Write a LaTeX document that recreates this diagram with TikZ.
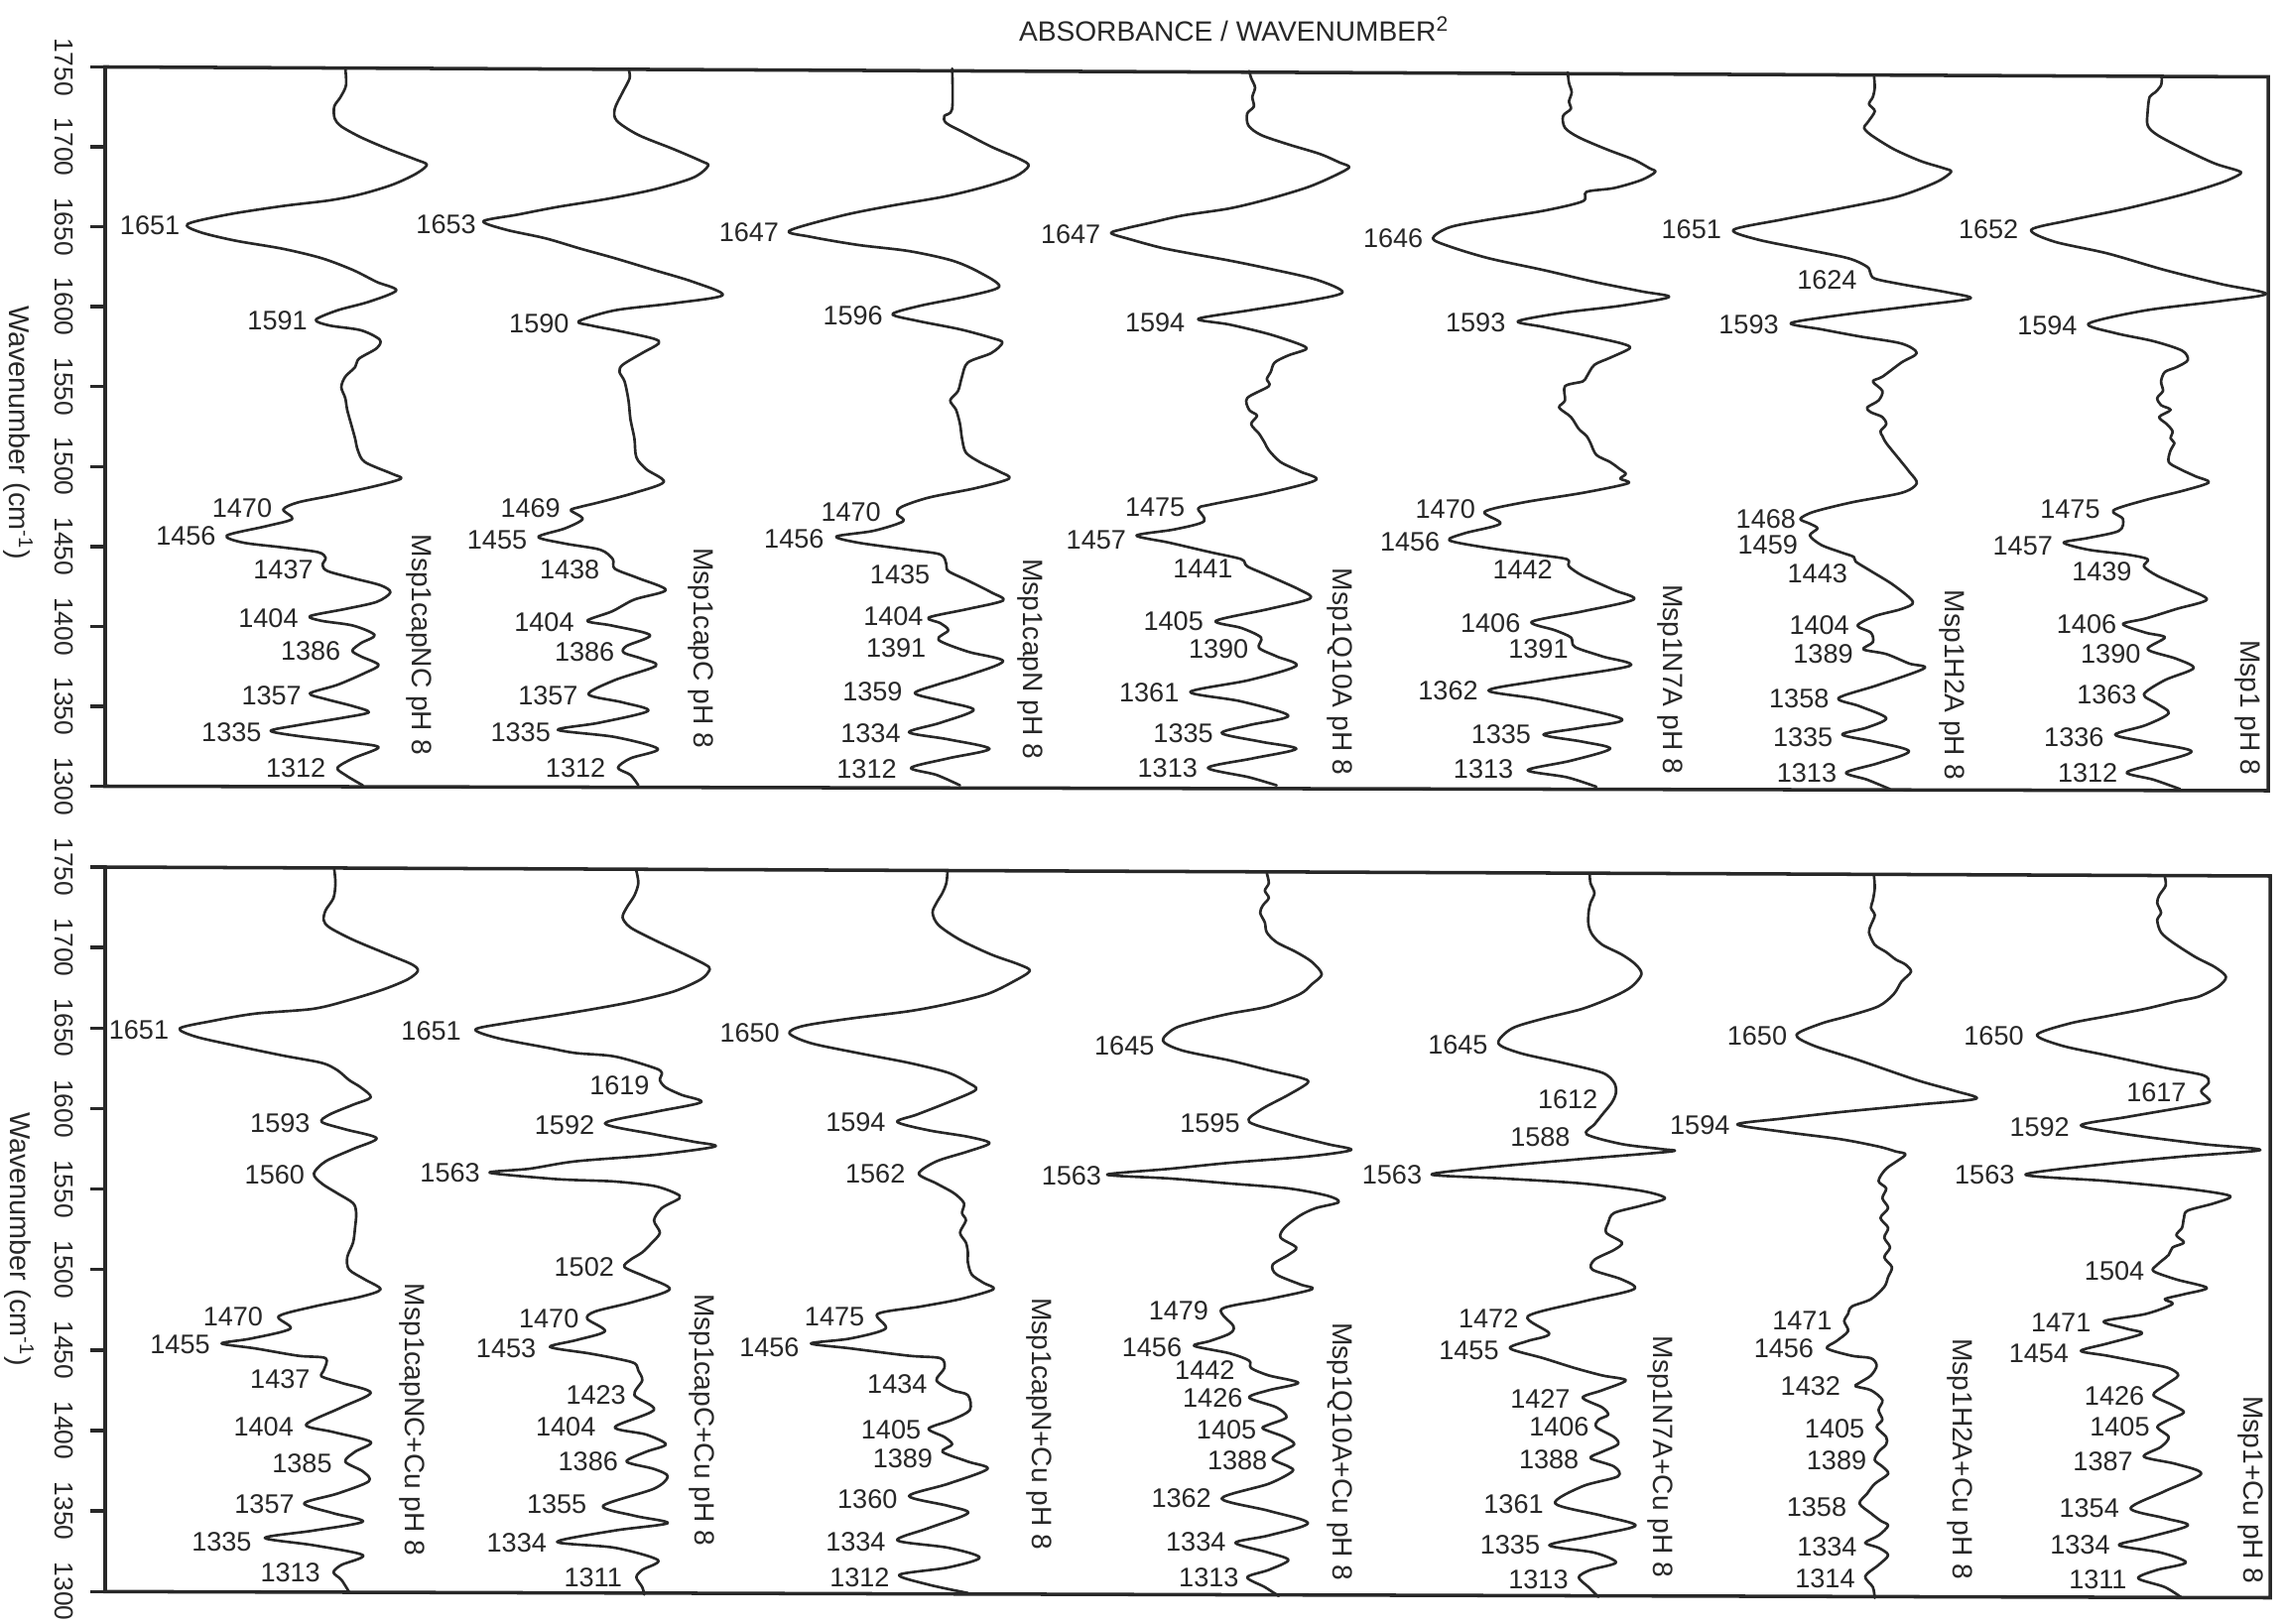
\documentclass[tikz,border=0pt]{standalone}
\usepackage{fontspec}
\setmainfont{Liberation Sans}
\definecolor{ink}{RGB}{40,40,40}
\newcommand\lab[4]{\node[lbl] (#1-#4) at (#2,#3) {#4};}
\begin{document}
\begin{tikzpicture}[x=0.01cm,y=-0.01cm,
  curve/.style={line width=0.75pt, draw=ink, line join=round, line cap=round},
  panelframe/.style={line width=1pt, draw=ink},
  lbl/.style={font=\fontsize{7.7}{8}\selectfont, text=ink, anchor=east, inner sep=0pt},
  sname/.style={font=\fontsize{8}{9}\selectfont, text=ink, rotate=-90, inner sep=0pt},
  ticklbl/.style={font=\fontsize{7.5}{8}\selectfont, text=ink, rotate=-90, inner sep=0pt},
  axlbl/.style={font=\fontsize{8.2}{9}\selectfont, text=ink, rotate=-90, inner sep=0pt}]
\useasboundingbox[fill=white] (0,0) rectangle (2303,1637);

% title
\node[font=\fontsize{8}{9}\selectfont, text=ink, anchor=base, inner sep=0pt] (title) at (1244,41.7) {ABSORBANCE / WAVENUMBER\textsuperscript{2}};

% frames
\draw[panelframe] (106,67.5) -- (2286,77.5) -- (2286,797) -- (106,792.5) -- cycle;
\draw[panelframe] (106,874) -- (2288,883) -- (2288,1610.5) -- (106,1604.3) -- cycle;

% ticks and tick labels
\foreach \k/\v in {0/1750,1/1700,2/1650,3/1600,4/1550,5/1500,6/1450,7/1400,8/1350,9/1300}{
  \draw[panelframe] (91,{67.5+80.56*\k}) -- (106,{67.5+80.56*\k});
  \node[ticklbl] (ta\v) at (65,{67.5+80.56*\k}) {\v};
  \draw[panelframe] (91,{874+81.14*\k}) -- (106,{874+81.14*\k});
  \node[ticklbl] (tb\v) at (65,{874+81.14*\k}) {\v};
}
\node[axlbl] (axa) at (18,436) {Wavenumber (cm\textsuperscript{-1})};
\node[axlbl] (axb) at (19,1249) {Wavenumber (cm\textsuperscript{-1})};

% ================= TOP PANEL, left part =================
\begin{scope}[yshift=-0.5cm, x=0.0039541cm, y=-0.0047831cm]
% curve 1
\draw[curve] plot[smooth,tension=0.5] coordinates {(880,38) (882,75) (868,100) (852,120) (853,145) (870,162) (920,185) (990,210) (1060,232) (1088,243) (1060,262) (1000,285) (920,305) (840,318) (720,330) (580,348) (478,368) (510,385) (600,403) (720,420) (820,440) (900,465) (960,490) (1010,508) (940,532) (860,550) (805,570) (840,582) (920,592) (968,612) (960,630) (915,652) (905,670) (880,690) (870,712) (880,735) (885,760) (895,790) (905,820) (912,845) (930,870) (1000,895) (1022,905) (960,920) (850,940) (760,955) (722,970) (745,990) (680,1005) (578,1025) (620,1040) (720,1050) (810,1060) (830,1072) (822,1087) (835,1100) (900,1115) (970,1130) (995,1145) (960,1165) (880,1180) (790,1195) (820,1205) (900,1215) (955,1235) (920,1252) (898,1268) (920,1280) (965,1298) (930,1315) (860,1340) (790,1358) (830,1370) (900,1385) (940,1398) (870,1410) (760,1425) (690,1437) (760,1448) (900,1462) (965,1472) (900,1495) (860,1515) (880,1530) (910,1545) (925,1552)};
\lab{T1}{460}{370}{1651}\lab{T1}{785}{572}{1591}\lab{T1}{695}{968}{1470}\lab{T1}{552}{1025}{1456}\lab{T1}{800}{1097}{1437}
\lab{T1}{762}{1200}{1404}\lab{T1}{870}{1268}{1386}\lab{T1}{770}{1362}{1357}\lab{T1}{668}{1440}{1335}\lab{T1}{832}{1515}{1312}
\node[sname] (nT1) at (1068,1255) {Msp1capNC pH 8};
% curve 2
\draw[curve] plot[smooth,tension=0.5] coordinates {(1602,40) (1605,60) (1587,90) (1567,125) (1572,150) (1627,180) (1717,210) (1787,235) (1805,245) (1767,270) (1667,295) (1547,315) (1420,332) (1320,348) (1232,362) (1290,380) (1390,398) (1480,420) (1567,440) (1667,465) (1767,490) (1842,518) (1717,535) (1567,550) (1475,573) (1507,582) (1587,595) (1667,610) (1679,620) (1637,640) (1587,665) (1579,680) (1592,700) (1602,740) (1607,780) (1617,820) (1622,860) (1647,885) (1692,912) (1617,935) (1527,955) (1477,965) (1455,972) (1485,990) (1440,1010) (1372,1028) (1440,1042) (1530,1055) (1562,1075) (1567,1095) (1627,1115) (1697,1140) (1617,1160) (1560,1185) (1497,1205) (1560,1215) (1657,1235) (1597,1258) (1590,1272) (1637,1285) (1672,1300) (1567,1330) (1500,1360) (1587,1377) (1652,1395) (1527,1420) (1422,1435) (1567,1450) (1677,1475) (1607,1495) (1575,1515) (1607,1530) (1627,1552)};
\lab{T2}{1215}{368}{1653}\lab{T2}{1452}{577}{1590}\lab{T2}{1430}{968}{1469}\lab{T2}{1345}{1035}{1455}\lab{T2}{1530}{1097}{1438}
\lab{T2}{1465}{1208}{1404}\lab{T2}{1568}{1270}{1386}\lab{T2}{1475}{1362}{1357}\lab{T2}{1405}{1440}{1335}\lab{T2}{1545}{1515}{1312}
\node[sname] (nT2) at (1787,1262) {Msp1capC pH 8};
% curve 3
\draw[curve] plot[smooth,tension=0.5] coordinates {(2427,40) (2427,125) (2407,140) (2412,155) (2457,175) (2527,205) (2597,230) (2622,245) (2587,268) (2507,290) (2407,310) (2267,330) (2147,350) (2012,382) (2067,395) (2187,412) (2317,425) (2427,445) (2497,470) (2547,500) (2467,520) (2347,540) (2275,558) (2337,572) (2447,590) (2527,608) (2555,618) (2527,640) (2467,660) (2452,690) (2442,720) (2422,740) (2437,760) (2447,790) (2452,820) (2462,850) (2497,870) (2547,890) (2572,905) (2487,925) (2367,945) (2297,965) (2287,980) (2302,995) (2227,1015) (2132,1027) (2187,1040) (2317,1055) (2397,1065) (2412,1085) (2417,1100) (2467,1120) (2527,1145) (2557,1162) (2467,1180) (2367,1198) (2397,1210) (2417,1225) (2392,1245) (2467,1270) (2557,1290) (2467,1320) (2387,1340) (2332,1358) (2407,1375) (2482,1393) (2397,1420) (2317,1440) (2417,1455) (2522,1475) (2417,1495) (2322,1515) (2387,1530) (2447,1552)};
\lab{T3}{1987}{385}{1647}\lab{T3}{2252}{562}{1596}\lab{T3}{2247}{975}{1470}\lab{T3}{2102}{1032}{1456}\lab{T3}{2372}{1108}{1435}
\lab{T3}{2355}{1195}{1404}\lab{T3}{2362}{1262}{1391}\lab{T3}{2302}{1355}{1359}\lab{T3}{2297}{1443}{1334}\lab{T3}{2287}{1518}{1312}
\node[sname] (nT3) at (2627,1285) {Msp1capN pH 8};
% curve 4
\draw[curve] plot[smooth,tension=0.5] coordinates {(3184,45) (3189,60) (3199,80) (3192,100) (3196,120) (3179,135) (3182,160) (3214,180) (3284,200) (3364,220) (3414,238) (3439,248) (3404,265) (3334,290) (3234,315) (3134,335) (3014,350) (2934,365) (2870,377) (2832,387) (2880,400) (2960,418) (3034,430) (3134,445) (3234,462) (3354,485) (3422,512) (3334,530) (3184,550) (3054,568) (3134,580) (3234,600) (3314,622) (3329,632) (3284,645) (3249,660) (3239,680) (3229,695) (3234,710) (3179,735) (3184,760) (3204,772) (3189,790) (3209,810) (3224,830) (3234,845) (3264,870) (3314,890) (3354,908) (3234,935) (3084,960) (3054,968) (3069,995) (2994,1012) (2897,1025) (2980,1040) (3084,1060) (3164,1075) (3179,1090) (3234,1110) (3314,1140) (3339,1158) (3234,1180) (3099,1205) (3164,1220) (3214,1240) (3209,1262) (3254,1280) (3304,1300) (3184,1330) (3034,1355) (3164,1375) (3284,1405) (3184,1425) (3114,1442) (3214,1460) (3304,1475) (3194,1495) (3079,1515) (3184,1535) (3254,1552)};
\lab{T4}{2807}{390}{1647}\lab{T4}{3022}{575}{1594}\lab{T4}{3022}{965}{1475}\lab{T4}{2872}{1035}{1457}\lab{T4}{3144}{1095}{1441}
\lab{T4}{3069}{1205}{1405}\lab{T4}{3184}{1265}{1390}\lab{T4}{3007}{1357}{1361}\lab{T4}{3094}{1442}{1335}\lab{T4}{3054}{1515}{1313}
\node[sname] (nT4) at (3416,1312) {Msp1Q10A pH 8};
% curve 5
\draw[curve] plot[smooth,tension=0.5] coordinates {(3996,48) (3999,70) (4006,90) (3999,110) (4004,125) (3984,140) (3989,165) (4024,185) (4094,210) (4164,232) (4204,250) (4219,258) (4184,275) (4114,292) (4044,300) (4034,320) (3934,340) (3784,360) (3694,375) (3652,398) (3694,415) (3794,440) (3934,465) (4064,490) (4184,510) (4254,522) (4134,540) (3984,555) (3869,573) (3934,585) (4054,605) (4134,620) (4154,630) (4104,650) (4064,665) (4044,690) (4034,700) (3989,710) (3989,740) (3974,755) (4004,775) (4024,800) (4044,815) (4054,830) (4069,855) (4104,870) (4129,885) (4144,895) (4130,905) (4149,915) (4034,935) (3884,955) (3784,975) (3824,1000) (3734,1020) (3694,1035) (3784,1050) (3914,1065) (3994,1075) (3999,1090) (4034,1110) (4114,1140) (4164,1160) (4034,1185) (3904,1207) (3964,1225) (4004,1240) (4014,1260) (4084,1280) (4154,1300) (3934,1330) (3794,1352) (3934,1372) (4134,1412) (4034,1430) (3934,1445) (4034,1460) (4104,1475) (4004,1500) (3894,1520) (3994,1535) (4069,1555)};
\lab{T5}{3629}{398}{1646}\lab{T5}{3839}{575}{1593}\lab{T5}{3762}{970}{1470}\lab{T5}{3672}{1038}{1456}\lab{T5}{3959}{1097}{1442}
\lab{T5}{3877}{1210}{1406}\lab{T5}{3999}{1265}{1391}\lab{T5}{3769}{1352}{1362}\lab{T5}{3904}{1445}{1335}\lab{T5}{3859}{1518}{1313}
\node[sname] (nT5) at (4256,1328) {Msp1N7A pH 8};
\end{scope}

% ================= TOP PANEL, right part =================
\begin{scope}[xshift=17cm, yshift=-0.5cm, x=0.0038462cm, y=-0.0047831cm]
% curve 6
\draw[curve] plot[smooth,tension=0.5] coordinates {(488,55) (490,80) (485,100) (475,115) (490,130) (470,155) (462,165) (480,180) (540,210) (610,235) (670,250) (690,258) (650,280) (550,310) (400,335) (250,358) (120,380) (180,400) (300,420) (420,440) (470,458) (478,470) (490,483) (560,495) (680,512) (740,525) (600,540) (400,560) (270,577) (350,590) (450,605) (560,620) (600,640) (560,660) (510,690) (485,700) (510,720) (500,740) (470,755) (480,765) (510,775) (520,790) (505,805) (510,815) (520,830) (550,860) (580,890) (600,915) (560,935) (430,955) (330,975) (295,990) (320,1000) (340,1010) (320,1025) (350,1045) (400,1060) (435,1070) (440,1080) (480,1100) (540,1130) (590,1165) (560,1180) (490,1195) (445,1215) (480,1230) (485,1250) (460,1265) (520,1275) (580,1295) (620,1305) (500,1340) (395,1368) (450,1385) (520,1410) (470,1430) (405,1445) (490,1460) (580,1480) (500,1505) (415,1525) (470,1540) (530,1560)};
\lab{T6}{90}{380}{1651}\lab{T6}{445}{485}{1624}\lab{T6}{240}{580}{1593}\lab{T6}{285}{990}{1468}\lab{T6}{290}{1045}{1459}\lab{T6}{420}{1105}{1443}
\lab{T6}{425}{1215}{1404}\lab{T6}{435}{1275}{1389}\lab{T6}{372}{1368}{1358}\lab{T6}{382}{1450}{1335}\lab{T6}{392}{1525}{1313}
\node[sname] (nT6) at (692,1340) {Msp1H2A pH 8};
% curve 7
\draw[curve] plot[smooth,tension=0.5] coordinates {(1242,58) (1240,75) (1225,90) (1210,100) (1205,130) (1205,160) (1230,180) (1300,210) (1380,240) (1440,255) (1448,262) (1400,280) (1300,305) (1150,335) (1000,360) (900,380) (960,405) (1100,430) (1250,465) (1400,495) (1515,515) (1400,530) (1200,550) (1050,578) (1120,598) (1220,615) (1295,635) (1310,655) (1280,670) (1250,680) (1240,700) (1245,720) (1230,735) (1240,750) (1265,760) (1235,775) (1255,790) (1270,805) (1265,820) (1275,830) (1265,845) (1260,870) (1290,885) (1330,900) (1365,913) (1300,930) (1200,950) (1115,972) (1140,990) (1130,1015) (1050,1030) (985,1040) (1050,1055) (1150,1065) (1205,1075) (1195,1090) (1230,1110) (1300,1135) (1360,1160) (1280,1180) (1200,1200) (1140,1212) (1200,1230) (1250,1240) (1205,1265) (1280,1285) (1325,1305) (1250,1330) (1195,1360) (1230,1380) (1260,1400) (1200,1425) (1120,1445) (1200,1460) (1320,1480) (1230,1505) (1150,1525) (1220,1540) (1290,1560)};
\lab{T7}{868}{380}{1652}\lab{T7}{1022}{582}{1594}\lab{T7}{1082}{970}{1475}\lab{T7}{958}{1048}{1457}\lab{T7}{1165}{1102}{1439}
\lab{T7}{1125}{1212}{1406}\lab{T7}{1188}{1275}{1390}\lab{T7}{1178}{1360}{1363}\lab{T7}{1092}{1450}{1336}\lab{T7}{1128}{1525}{1312}
\node[sname] (nT7) at (1468,1388) {Msp1 pH 8};
\end{scope}

% ================= BOTTOM PANEL, left part =================
\begin{scope}[yshift=-8.6cm, x=0.0039541cm, y=-0.0049554cm]
% curve 1
\draw[curve] plot[smooth,tension=0.5] coordinates {(852,32) (855,60) (850,90) (830,115) (825,135) (840,150) (900,175) (990,205) (1050,225) (1065,238) (1040,255) (980,275) (900,295) (800,315) (650,325) (540,340) (458,355) (500,372) (600,390) (720,410) (820,425) (860,440) (890,460) (920,475) (945,495) (900,510) (840,530) (820,545) (880,560) (960,578) (900,600) (830,625) (800,650) (820,670) (860,690) (900,710) (908,730) (905,760) (900,790) (885,820) (890,845) (930,865) (970,885) (920,900) (800,920) (710,940) (740,965) (640,985) (565,995) (650,1005) (760,1020) (830,1025) (825,1050) (820,1062) (870,1075) (945,1095) (870,1125) (780,1160) (850,1175) (945,1195) (905,1215) (880,1235) (925,1255) (940,1275) (860,1300) (775,1320) (850,1340) (925,1357) (800,1375) (675,1390) (800,1405) (925,1425) (870,1445) (850,1460) (870,1475) (890,1500)};
\lab{B1}{432}{358}{1651}\lab{B1}{792}{548}{1593}\lab{B1}{778}{652}{1560}\lab{B1}{672}{940}{1470}\lab{B1}{537}{998}{1455}\lab{B1}{792}{1068}{1437}
\lab{B1}{750}{1165}{1404}\lab{B1}{848}{1238}{1385}\lab{B1}{752}{1322}{1357}\lab{B1}{643}{1398}{1335}\lab{B1}{818}{1460}{1313}
\node[sname] (nB1) at (1050,1150) {Msp1capNC+Cu pH 8};
% curve 2
\draw[curve] plot[smooth,tension=0.5] coordinates {(1622,35) (1627,60) (1617,85) (1597,110) (1587,130) (1607,150) (1667,175) (1747,205) (1797,225) (1809,235) (1787,255) (1717,280) (1617,300) (1517,315) (1420,328) (1300,343) (1212,357) (1270,375) (1400,395) (1467,405) (1567,412) (1667,435) (1687,445) (1682,460) (1697,475) (1737,490) (1787,505) (1667,525) (1542,548) (1667,570) (1767,585) (1822,595) (1667,612) (1467,625) (1350,640) (1248,648) (1400,660) (1467,663) (1567,666) (1667,675) (1722,690) (1732,700) (1687,720) (1667,745) (1682,770) (1662,790) (1637,810) (1607,825) (1592,840) (1647,860) (1707,885) (1617,910) (1517,930) (1497,945) (1542,970) (1470,988) (1402,1002) (1500,1015) (1567,1025) (1617,1035) (1627,1050) (1637,1070) (1617,1100) (1667,1130) (1567,1165) (1647,1180) (1697,1200) (1647,1215) (1597,1235) (1667,1250) (1702,1265) (1667,1290) (1537,1325) (1617,1345) (1702,1360) (1567,1375) (1420,1398) (1567,1410) (1677,1435) (1637,1455) (1622,1470) (1637,1490) (1642,1505)};
\lab{B2}{1177}{360}{1651}\lab{B2}{1657}{470}{1619}\lab{B2}{1517}{552}{1592}\lab{B2}{1225}{648}{1563}\lab{B2}{1567}{840}{1502}\lab{B2}{1477}{945}{1470}\lab{B2}{1368}{1005}{1453}
\lab{B2}{1597}{1100}{1423}\lab{B2}{1520}{1165}{1404}\lab{B2}{1577}{1235}{1386}\lab{B2}{1497}{1322}{1355}\lab{B2}{1395}{1400}{1334}\lab{B2}{1587}{1470}{1311}
\node[sname] (nB2) at (1789,1150) {Msp1capC+Cu pH 8};
% curve 3
\draw[curve] plot[smooth,tension=0.5] coordinates {(2415,38) (2412,60) (2402,80) (2387,100) (2377,120) (2392,145) (2447,175) (2527,205) (2597,225) (2625,238) (2587,258) (2517,285) (2417,305) (2317,320) (2167,335) (2047,350) (2012,365) (2067,385) (2187,405) (2317,425) (2417,445) (2467,465) (2487,480) (2417,505) (2337,530) (2287,545) (2367,562) (2467,575) (2522,588) (2467,605) (2387,625) (2342,650) (2387,670) (2432,690) (2457,710) (2452,730) (2462,745) (2447,770) (2462,790) (2467,810) (2467,830) (2477,855) (2507,872) (2532,885) (2447,905) (2347,920) (2237,935) (2257,965) (2167,985) (2067,995) (2167,1005) (2317,1020) (2397,1025) (2407,1045) (2387,1070) (2427,1090) (2467,1100) (2472,1130) (2427,1150) (2367,1168) (2407,1185) (2427,1200) (2402,1215) (2467,1235) (2517,1250) (2417,1280) (2317,1305) (2417,1325) (2467,1340) (2367,1370) (2287,1395) (2417,1410) (2497,1430) (2417,1450) (2292,1465) (2367,1485) (2467,1502)};
\lab{B3}{1989}{365}{1650}\lab{B3}{2259}{545}{1594}\lab{B3}{2309}{650}{1562}\lab{B3}{2205}{940}{1475}\lab{B3}{2039}{1002}{1456}\lab{B3}{2365}{1078}{1434}
\lab{B3}{2349}{1170}{1405}\lab{B3}{2379}{1228}{1389}\lab{B3}{2289}{1312}{1360}\lab{B3}{2259}{1398}{1334}\lab{B3}{2269}{1470}{1312}
\node[sname] (nB3) at (2649,1158) {Msp1capN+Cu pH 8};
% curve 4
\draw[curve] plot[smooth,tension=0.5] coordinates {(3229,40) (3234,60) (3224,75) (3234,90) (3219,105) (3212,120) (3224,140) (3229,160) (3254,180) (3304,200) (3344,220) (3369,245) (3344,265) (3314,285) (3234,310) (3134,325) (3054,340) (2994,355) (2964,380) (3014,400) (3134,420) (3234,440) (3314,455) (3334,465) (3284,490) (3214,520) (3184,545) (3284,570) (3384,590) (3444,602) (3334,615) (3134,628) (2984,640) (2822,652) (2984,660) (3134,670) (3284,680) (3384,695) (3412,708) (3354,720) (3314,735) (3274,760) (3264,780) (3304,800) (3284,815) (3244,835) (3254,855) (3314,875) (3344,885) (3234,905) (3114,925) (3144,960) (3134,975) (3084,990) (3044,1000) (3134,1015) (3184,1030) (3189,1045) (3234,1060) (3309,1075) (3234,1090) (3184,1105) (3254,1125) (3279,1145) (3234,1160) (3219,1168) (3274,1185) (3299,1200) (3264,1215) (3244,1230) (3284,1245) (3294,1255) (3234,1280) (3114,1310) (3234,1335) (3334,1360) (3234,1385) (3149,1400) (3234,1420) (3284,1435) (3234,1455) (3179,1470) (3224,1490) (3259,1508)};
\lab{B4}{2944}{390}{1645}\lab{B4}{3162}{548}{1595}\lab{B4}{2809}{655}{1563}\lab{B4}{3082}{928}{1479}\lab{B4}{3014}{1002}{1456}\lab{B4}{3149}{1050}{1442}
\lab{B4}{3169}{1105}{1426}\lab{B4}{3204}{1170}{1405}\lab{B4}{3232}{1232}{1388}\lab{B4}{3089}{1310}{1362}\lab{B4}{3126}{1398}{1334}\lab{B4}{3159}{1470}{1313}
\node[sname] (nB4) at (3416,1215) {Msp1Q10A+Cu pH 8};
% curve 5
\draw[curve] plot[smooth,tension=0.5] coordinates {(4052,42) (4054,60) (4064,80) (4054,100) (4049,120) (4049,145) (4059,165) (4084,185) (4134,205) (4169,225) (4184,245) (4159,270) (4114,290) (4034,315) (3934,335) (3854,355) (3819,385) (3874,405) (3984,425) (4084,445) (4114,465) (4119,485) (4109,505) (4084,530) (4064,550) (4044,570) (4134,590) (4234,600) (4259,605) (4034,620) (3784,638) (3649,652) (3834,660) (4034,670) (4184,685) (4244,700) (4184,715) (4114,730) (4099,750) (4094,770) (4134,790) (4114,805) (4064,825) (4059,845) (4134,865) (4164,885) (4034,910) (3894,940) (3949,975) (3894,990) (3849,1005) (3934,1025) (4014,1045) (4084,1060) (4144,1070) (4084,1090) (4034,1105) (4084,1125) (4099,1140) (4074,1150) (4069,1165) (4114,1185) (4124,1200) (4084,1215) (4054,1228) (4114,1245) (4124,1265) (4034,1285) (3964,1320) (4084,1345) (4169,1365) (4064,1385) (3949,1405) (4064,1420) (4119,1440) (4054,1455) (4024,1470) (4049,1490) (4074,1510)};
\lab{B5}{3794}{388}{1645}\lab{B5}{4074}{500}{1612}\lab{B5}{4004}{575}{1588}\lab{B5}{3626}{652}{1563}\lab{B5}{3872}{945}{1472}\lab{B5}{3822}{1010}{1455}
\lab{B5}{4004}{1108}{1427}\lab{B5}{4052}{1165}{1406}\lab{B5}{4026}{1230}{1388}\lab{B5}{3936}{1322}{1361}\lab{B5}{3927}{1405}{1335}\lab{B5}{3999}{1475}{1313}
\node[sname] (nB5) at (4232,1225) {Msp1N7A+Cu pH 8};
\end{scope}

% ================= BOTTOM PANEL, right part =================
\begin{scope}[xshift=17cm, yshift=-8.6cm, x=0.0038462cm, y=-0.0049554cm]
% curve 6
\draw[curve] plot[smooth,tension=0.5] coordinates {(488,45) (490,70) (485,95) (480,110) (490,125) (480,145) (475,160) (490,185) (520,200) (545,215) (570,225) (585,240) (560,260) (540,285) (500,310) (420,330) (350,345) (285,368) (330,390) (450,420) (600,460) (700,482) (755,498) (600,510) (400,525) (250,538) (130,550) (250,565) (400,580) (500,595) (545,605) (570,612) (520,640) (500,665) (520,680) (510,700) (525,720) (505,740) (525,760) (515,780) (530,800) (515,820) (535,840) (525,860) (515,880) (480,905) (430,920) (420,935) (410,950) (420,970) (390,990) (365,1005) (430,1020) (480,1025) (495,1040) (480,1060) (450,1075) (440,1082) (480,1090) (510,1110) (500,1130) (510,1150) (495,1165) (520,1185) (520,1200) (500,1215) (490,1232) (510,1245) (525,1260) (490,1280) (470,1300) (450,1320) (480,1340) (505,1355) (525,1365) (500,1385) (465,1400) (500,1410) (525,1425) (500,1445) (465,1468) (485,1490) (490,1512)};
\lab{B6}{262}{370}{1650}\lab{B6}{112}{552}{1594}\lab{B6}{380}{948}{1471}\lab{B6}{332}{1005}{1456}\lab{B6}{402}{1082}{1432}
\lab{B6}{465}{1168}{1405}\lab{B6}{470}{1232}{1389}\lab{B6}{418}{1328}{1358}\lab{B6}{445}{1408}{1334}\lab{B6}{440}{1472}{1314}
\node[sname] (nB6) at (712,1230) {Msp1H2A+Cu pH 8};
% curve 7
\draw[curve] plot[smooth,tension=0.5] coordinates {(1250,48) (1252,65) (1235,85) (1230,100) (1240,120) (1230,135) (1240,160) (1270,180) (1330,210) (1380,230) (1410,250) (1390,270) (1340,290) (1280,300) (1200,315) (1100,330) (1000,345) (915,368) (980,390) (1100,410) (1250,435) (1350,450) (1365,465) (1345,482) (1360,495) (1365,505) (1300,515) (1150,535) (1030,552) (1150,570) (1350,590) (1500,602) (1300,615) (1100,630) (885,652) (1100,665) (1300,680) (1420,695) (1380,710) (1310,725) (1300,740) (1295,760) (1280,775) (1300,790) (1270,800) (1260,815) (1230,835) (1220,848) (1280,865) (1360,882) (1300,895) (1250,905) (1270,915) (1200,935) (1090,950) (1150,965) (1190,975) (1100,995) (1030,1010) (1100,1020) (1200,1035) (1260,1045) (1285,1060) (1250,1080) (1220,1100) (1270,1120) (1300,1135) (1260,1150) (1230,1165) (1260,1185) (1240,1205) (1195,1225) (1280,1240) (1345,1260) (1250,1295) (1160,1330) (1250,1350) (1310,1365) (1200,1390) (1130,1405) (1240,1420) (1305,1440) (1230,1455) (1180,1472) (1250,1490) (1295,1512)};
\lab{B7}{882}{370}{1650}\lab{B7}{1308}{485}{1617}\lab{B7}{1002}{555}{1592}\lab{B7}{858}{652}{1563}\lab{B7}{1198}{848}{1504}\lab{B7}{1058}{952}{1471}\lab{B7}{1000}{1015}{1454}
\lab{B7}{1198}{1102}{1426}\lab{B7}{1212}{1165}{1405}\lab{B7}{1168}{1235}{1387}\lab{B7}{1132}{1330}{1354}\lab{B7}{1108}{1405}{1334}\lab{B7}{1152}{1475}{1311}
\node[sname] (nB7) at (1475,1292) {Msp1+Cu pH 8};
\end{scope}
\end{tikzpicture}
\end{document}
